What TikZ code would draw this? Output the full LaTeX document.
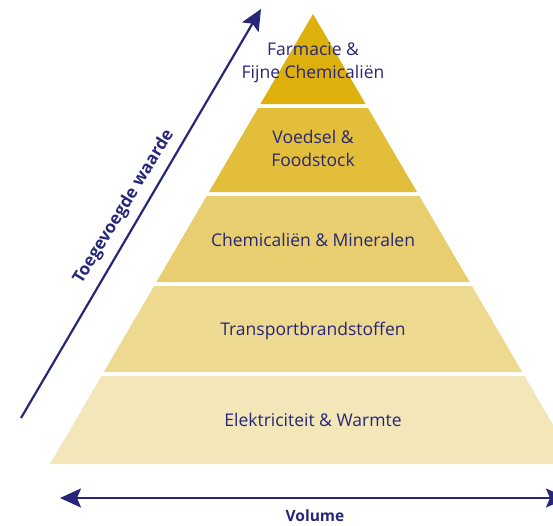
\documentclass[tikz,border=0pt]{standalone}
\usepackage{fontspec}
\setmainfont{Open Sans}
\usetikzlibrary{arrows.meta}
\definecolor{navy}{RGB}{40,38,120}
\definecolor{layerA}{RGB}{221,176,12}
\definecolor{layerB}{RGB}{226,190,58}
\definecolor{layerC}{RGB}{232,206,110}
\definecolor{layerD}{RGB}{237,217,144}
\definecolor{layerE}{RGB}{243,231,186}
\tikzset{
  lbl/.style={text=navy, font=\fontsize{17.5}{23}\selectfont, align=center, inner sep=0pt},
  axislbl/.style={text=navy, inner sep=0pt},
  axis/.style={navy, line width=2.2pt, >={Stealth[length=21pt,width=19pt,inset=4pt]}},
}
\begin{document}
\begin{tikzpicture}[x=1pt,y=-1pt]
    \useasboundingbox (0,0) rectangle (553,525);
    \clip (0,0) rectangle (553,525);
    % Pyramid layers (top y, bottom y, colour), sides through apex (313,14)
    \foreach \t/\b/\c in {14/104/layerA, 108/192/layerB, 196/282/layerC, 286/372/layerD, 376/464/layerE}
      \fill[\c] ({313-0.5844*(\t-14)},\t) -- ({313+0.5844*(\t-14)},\t)
          -- ({313+0.5844*(\b-14)},\b) -- ({313-0.5844*(\b-14)},\b) -- cycle;

    % Layer labels
    \node[lbl] (farma) at (313,63) {Farmacie \&\\Fijne Chemicaliën};
    \node[lbl] (voedsel) at (313,148) {Voedsel \&\\Foodstock};
    \node[lbl] (chem) at (313,240) {Chemicaliën \& Mineralen};
    \node[lbl] (transport) at (313,331) {Transportbrandstoffen};
    \node[lbl] (elek) at (313,420) {Elektriciteit \& Warmte};

    % Axes
    \coordinate (vstart) at (21,418);
    \coordinate (vend) at (261,9);
    \coordinate (hstart) at (60,498);
    \coordinate (hend) at (567,498);
    \draw[axis, ->] (vstart) -- (vend);
    \draw[axis, <->] (hstart) -- (hend);
    \node[axislbl, font=\fontsize{17}{20}\selectfont\bfseries, rotate=58.5] (waarde) at (124,207) {Toegevoegde waarde};
    \node[axislbl, font=\fontsize{15.5}{18}\selectfont\bfseries] (volume) at (315,515.5) {Volume};
\end{tikzpicture}
\end{document}
